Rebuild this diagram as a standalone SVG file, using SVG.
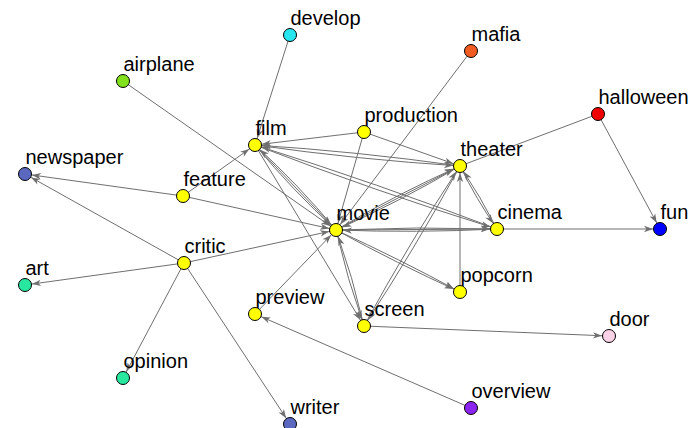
<svg xmlns="http://www.w3.org/2000/svg" width="689" height="428" viewBox="0 0 689 428">
  <style>
    .edge { fill: none; stroke: #6f6f6f; stroke-width: 1; }
    .arr { marker-end: url(#arw); }
    .node circle { stroke: #000; stroke-width: 1; }
    .node text { font-family: "Liberation Sans", Arial, Helvetica, sans-serif; font-size: 20px; fill: #000; }
    .y { fill: #ffff00; }
  </style>
  <defs>
    <marker id="arw" markerUnits="userSpaceOnUse" markerWidth="12" markerHeight="8" refX="7" refY="0" orient="auto" style="overflow:visible">
      <path d="M0,0 L-9,-3.2 L-6.5,0 L-9,3.2 Z" fill="#6f6f6f"/>
    </marker>
  </defs>
  <rect width="689" height="428" fill="#fff"/>

  <g id="connectors">
    <!-- single edges -->
    <path class="edge arr" d="M123,81 L336,230"/>
    <path class="edge arr" d="M290,35 L255,145"/>
    <path class="edge arr" d="M471,51 L336,230"/>
    <path class="edge" d="M598,114 L460,166"/>
    <path class="edge arr" d="M598,114 L660,229"/>
    <path class="edge arr" d="M183,196 L25,174"/>
    <path class="edge arr" d="M184,263 L25,174"/>
    <path class="edge arr" d="M183,196 L255,145"/>
    <path class="edge arr" d="M183,196 L336,230"/>
    <path class="edge arr" d="M184,263 L25,285"/>
    <path class="edge arr" d="M184,263 L336,230"/>
    <path class="edge arr" d="M184,263 L123,378"/>
    <path class="edge arr" d="M184,263 L290,424"/>
    <path class="edge arr" d="M255,314 L336,230"/>
    <path class="edge arr" d="M471,408 L255,314"/>
    <path class="edge arr" d="M364,326 L609,336"/>
    <path class="edge arr" d="M497,229 L660,229"/>
    <path class="edge arr" d="M364,132 L255,145"/>
    <path class="edge arr" d="M364,132 L460,166"/>
    <path class="edge arr" d="M364,132 L336,230"/>
    <path class="edge arr" d="M460,292 L460,166"/>
    <path class="edge arr" d="M255,145 L364,326"/>

    <!-- film / theater -->
    <path class="edge arr" d="M255,145 Q357,159.5 460,166"/>
    <path class="edge arr" d="M460,166 Q358,151.5 255,145"/>
    <!-- film / cinema -->
    <path class="edge arr" d="M255,145 Q374.7,191 497,229"/>
    <path class="edge arr" d="M497,229 Q377.3,183.5 255,145"/>
    <!-- film / movie -->
    <path class="edge arr" d="M255,145 Q292.6,190.3 336,230"/>
    <path class="edge arr" d="M336,230 Q298.4,184.7 255,145"/>
    <path class="edge arr" d="M255,145 L336,230"/>
    <!-- theater / movie -->
    <path class="edge arr" d="M336,230 Q396.2,194.4 460,166"/>
    <path class="edge arr" d="M460,166 Q399.8,201.6 336,230"/>
    <path class="edge arr" d="M336,230 L460,166"/>
    <!-- theater / cinema -->
    <path class="edge arr" d="M460,166 Q476.3,199.2 497,229"/>
    <path class="edge arr" d="M497,229 Q480.7,196.8 460,166"/>
    <!-- theater / screen -->
    <path class="edge arr" d="M364,326 Q408.6,243.9 460,166"/>
    <path class="edge arr" d="M460,166 Q415.4,248.1 364,326"/>
    <!-- movie / cinema -->
    <path class="edge arr" d="M336,230 Q416.5,226.5 497,229"/>
    <path class="edge arr" d="M497,229 Q416.5,233 336,230"/>
    <path class="edge arr" d="M336,230 L497,229"/>
    <!-- movie / popcorn -->
    <path class="edge arr" d="M336,230 Q396.9,263.4 460,292"/>
    <path class="edge arr" d="M336,230 Q399.1,258.8 460,292"/>
    <!-- movie / screen -->
    <path class="edge arr" d="M336,230 Q347.1,278.8 364,326"/>
    <path class="edge arr" d="M364,326 Q352.9,277.2 336,230"/>
  </g>

  <g id="node-develop" class="node"><circle cx="290" cy="35" r="6.5" fill="#28e6f0"/><text x="290.5" y="25">develop</text></g>
  <g id="node-mafia" class="node"><circle cx="471" cy="51" r="6.5" fill="#f25c22"/><text x="471.5" y="41">mafia</text></g>
  <g id="node-airplane" class="node"><circle cx="123" cy="81" r="6.5" fill="#80e11c"/><text x="123.5" y="71">airplane</text></g>
  <g id="node-halloween" class="node"><circle cx="598" cy="114" r="6.5" fill="#f00000"/><text x="598.5" y="104">halloween</text></g>
  <g id="node-production" class="node"><circle cx="364" cy="132" r="6.5" class="y"/><text x="364.5" y="122">production</text></g>
  <g id="node-film" class="node"><circle cx="255" cy="145" r="6.5" class="y"/><text x="255.5" y="134.5">film</text></g>
  <g id="node-theater" class="node"><circle cx="460" cy="166" r="6.5" class="y"/><text x="460.5" y="156">theater</text></g>
  <g id="node-newspaper" class="node"><circle cx="25" cy="174" r="6.5" fill="#5a68c0"/><text x="25.5" y="164">newspaper</text></g>
  <g id="node-feature" class="node"><circle cx="183" cy="196" r="6.5" class="y"/><text x="183.5" y="186">feature</text></g>
  <g id="node-movie" class="node"><circle cx="336" cy="230" r="6.5" class="y"/><text x="336.5" y="219.5">movie</text></g>
  <g id="node-cinema" class="node"><circle cx="497" cy="229" r="6.5" class="y"/><text x="497.5" y="219">cinema</text></g>
  <g id="node-fun" class="node"><circle cx="660" cy="229" r="6.5" fill="#0000ff"/><text x="660.5" y="219">fun</text></g>
  <g id="node-critic" class="node"><circle cx="184" cy="263" r="6.5" class="y"/><text x="184.5" y="253">critic</text></g>
  <g id="node-art" class="node"><circle cx="25" cy="285" r="6.5" fill="#28e8a0"/><text x="25.5" y="275">art</text></g>
  <g id="node-popcorn" class="node"><circle cx="460" cy="292" r="6.5" class="y"/><text x="460.5" y="282">popcorn</text></g>
  <g id="node-preview" class="node"><circle cx="255" cy="314" r="6.5" class="y"/><text x="255.5" y="304">preview</text></g>
  <g id="node-screen" class="node"><circle cx="364" cy="326" r="6.5" class="y"/><text x="364.5" y="316">screen</text></g>
  <g id="node-door" class="node"><circle cx="609" cy="336" r="6.5" fill="#fcd2e6"/><text x="609.5" y="326">door</text></g>
  <g id="node-opinion" class="node"><circle cx="123" cy="378" r="6.5" fill="#28e8a0"/><text x="123.5" y="368">opinion</text></g>
  <g id="node-overview" class="node"><circle cx="471" cy="408" r="6.5" fill="#8a24ee"/><text x="471.5" y="398">overview</text></g>
  <g id="node-writer" class="node"><circle cx="290" cy="424" r="6.5" fill="#5a68c0"/><text x="290.5" y="414">writer</text></g>
</svg>
